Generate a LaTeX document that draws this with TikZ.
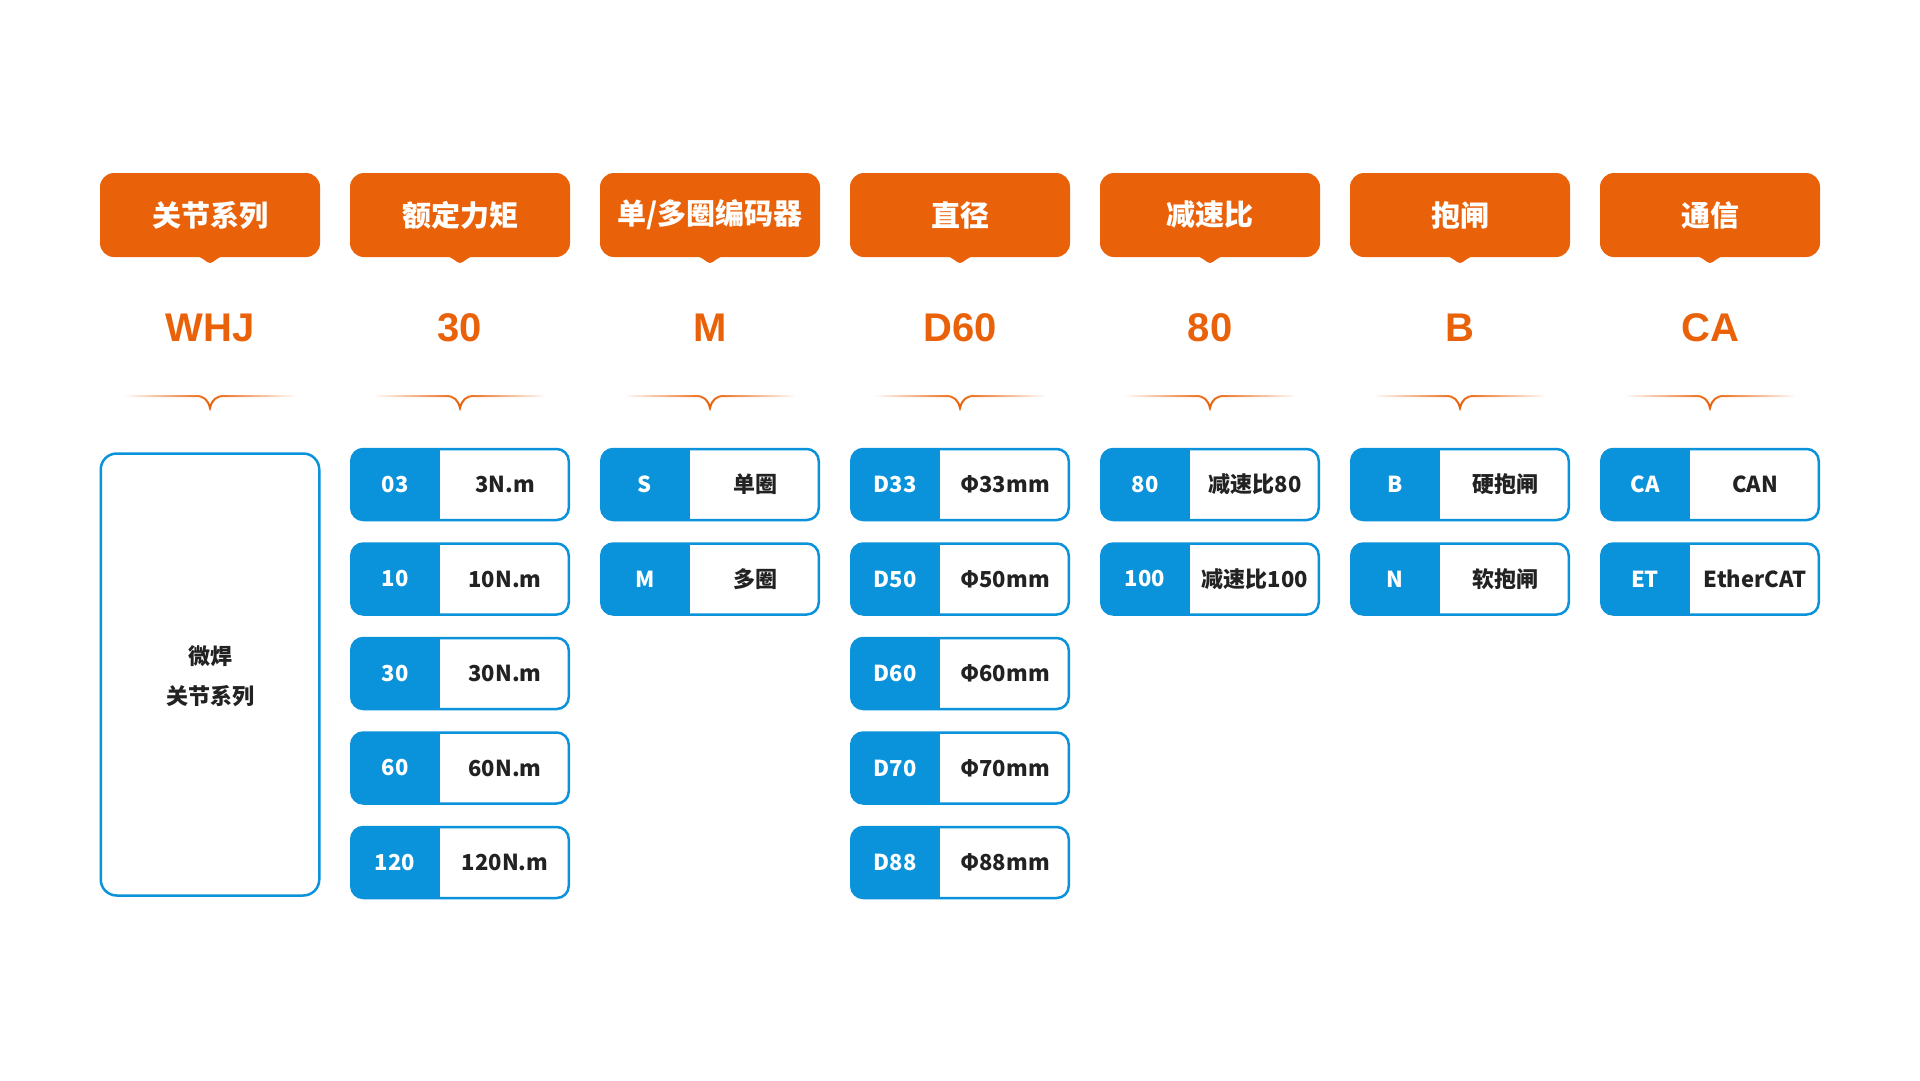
\documentclass[tikz,border=0pt]{standalone}
\usepackage{fontspec}
\setmainfont{Liberation Sans}
\newfontfamily\cjk{Noto Sans CJK SC}
\usetikzlibrary{fadings}
\definecolor{org}{HTML}{E9620A}
\definecolor{blu}{HTML}{0A93DA}
\definecolor{ink}{HTML}{222222}
\tikzfading[name=fadeends, left color=transparent!100, right color=transparent!100, middle color=transparent!0]
\tikzset{
  hdrbox/.style={fill=org, rounded corners=14pt, minimum width=220pt, minimum height=84pt, inner sep=0pt,
    text=white, font=\cjk\bfseries\fontsize{29}{32}\selectfont},
  bigtext/.style={text=org, inner sep=0pt, font=\bfseries\fontsize{40}{44}\selectfont},
  cellframe/.style={draw=blu, line width=2.5pt, rounded corners=12pt, minimum width=217.5pt, minimum height=71pt, inner sep=0pt},
  codetext/.style={text=white, inner sep=0pt, font=\cjk\bfseries\fontsize{22}{26}\selectfont},
  valtext/.style={text=ink, inner sep=0pt, font=\cjk\bfseries\fontsize{22}{26}\selectfont},
  bracepath/.style={draw=org, line width=2pt, path fading=fadeends},
}
\newcommand\mkcol[4]{% #1 name, #2 left x, #3 header, #4 code
  \node[hdrbox] (#1h) at (#2+110,215) {#3};
  \fill[org] (#2+94,256) .. controls (#2+103,256) and (#2+106,263) .. (#2+110,263)
     .. controls (#2+114,263) and (#2+117,256) .. (#2+126,256) -- cycle;
  \node[bigtext] (#1n) at (#2+110,328) {#4};
  \draw[bracepath] (#2+25,396) -- (#2+96,396) .. controls (#2+104,396) and (#2+108,400) .. (#2+110,408)
     .. controls (#2+112,400) and (#2+116,396) .. (#2+124,396) -- (#2+195,396);
}
\newcommand\mkcell[5]{% #1 name, #2 x, #3 y, #4 code, #5 value
  \begin{scope}
    \clip[rounded corners=12pt] (#2+1.25,#3) rectangle (#2+218.75,#3+71);
    \fill[blu] (#2,#3) rectangle (#2+90,#3+71);
  \end{scope}
  \node[cellframe] (#1) at (#2+110,#3+35.5) {};
  \node[codetext] (#1c) at (#2+45,#3+35.5) {#4};
  \node[valtext] (#1v) at (#2+155,#3+35.5) {#5};
}
\begin{document}
\begin{tikzpicture}[x=1pt,y=-1pt]
\useasboundingbox (0,0) rectangle (1920,1080);
\fill[white] (0,0) rectangle (1920,1080);
\mkcol{a}{100}{关节系列}{WHJ}
\mkcol{b}{350}{额定力矩}{30}
\mkcol{c}{600}{单/多圈编码器}{M}
\mkcol{d}{850}{直径}{D60}
\mkcol{e}{1100}{减速比}{80}
\mkcol{f}{1350}{抱闸}{B}
\mkcol{g}{1600}{通信}{CA}
% series box
\node[draw=blu, line width=2.5pt, rounded corners=16pt, minimum width=218.5pt, minimum height=442pt, inner sep=0pt] (series) at (210,674.5) {};
\node[text=ink, align=center, font=\cjk\bfseries\fontsize{22}{40}\selectfont] (seriestxt) at (210,676) {微焊\\关节系列};
% torque
\mkcell{b1}{350}{449}{03}{3N.m}
\mkcell{b2}{350}{543.5}{10}{10N.m}
\mkcell{b3}{350}{638}{30}{30N.m}
\mkcell{b4}{350}{732.5}{60}{60N.m}
\mkcell{b5}{350}{827}{120}{120N.m}
% encoder
\mkcell{c1}{600}{449}{S}{单圈}
\mkcell{c2}{600}{543.5}{M}{多圈}
% diameter
\mkcell{d1}{850}{449}{D33}{Φ33mm}
\mkcell{d2}{850}{543.5}{D50}{Φ50mm}
\mkcell{d3}{850}{638}{D60}{Φ60mm}
\mkcell{d4}{850}{732.5}{D70}{Φ70mm}
\mkcell{d5}{850}{827}{D88}{Φ88mm}
% ratio
\mkcell{e1}{1100}{449}{80}{减速比80}
\mkcell{e2}{1100}{543.5}{100}{减速比100}
% brake
\mkcell{f1}{1350}{449}{B}{硬抱闸}
\mkcell{f2}{1350}{543.5}{N}{软抱闸}
% comm
\mkcell{g1}{1600}{449}{CA}{CAN}
\mkcell{g2}{1600}{543.5}{ET}{EtherCAT}
\end{tikzpicture}
\end{document}
